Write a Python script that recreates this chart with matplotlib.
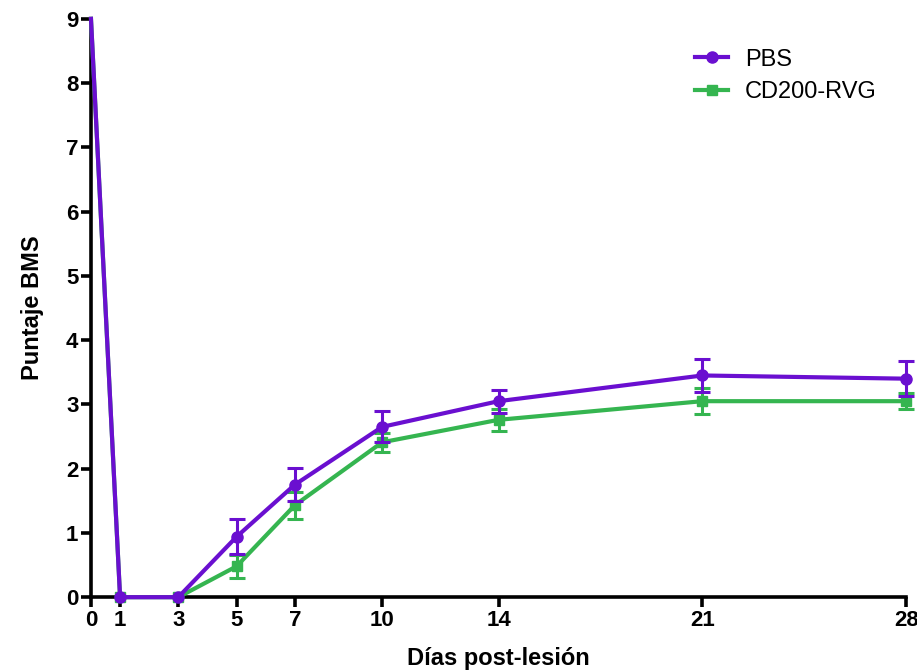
import matplotlib
matplotlib.use("Agg")
import matplotlib.pyplot as plt

# BMS score after lesion
days = [0, 1, 3, 5, 7, 10, 14, 21, 28]
pbs_mean = [9, 0, 0, 0.94, 1.75, 2.65, 3.05, 3.45, 3.40]
pbs_err = [0, 0, 0, 0.27, 0.26, 0.24, 0.18, 0.25, 0.27]
cd200_mean = [9, 0, 0, 0.48, 1.43, 2.41, 2.76, 3.05, 3.05]
cd200_err = [0, 0, 0, 0.18, 0.21, 0.15, 0.17, 0.20, 0.12]
tick_days = [0, 1, 3, 5, 7, 10, 14, 21, 28]

purple = "#6a0fd0"
green = "#35b550"

plt.rcParams['font.family'] = ['Liberation Sans', 'DejaVu Sans']

fig = plt.figure(figsize=(9.17, 6.71), dpi=100)
ax = fig.add_axes([0.0992, 0.110, 0.889, 0.862])

series = [
    ('CD200-RVG', cd200_mean, cd200_err, green, 's', 7, 3),
    ('PBS', pbs_mean, pbs_err, purple, 'o', 8, 4),
]
for name, mean, err, col, mk, ms, z in series:
    # no marker at day 0, it sits on the axis
    ax.plot(days, mean, color=col, marker=mk, markersize=ms, linewidth=3,
            markevery=list(range(1, len(days))), label=name, clip_on=False, zorder=z)
    idx = [i for i, e in enumerate(err) if e > 0]
    ax.errorbar([days[i] for i in idx], [mean[i] for i in idx], yerr=[err[i] for i in idx],
                fmt='none', ecolor=col, elinewidth=2.2, capsize=6, capthick=2.2,
                clip_on=False, zorder=z)

ax.set_xlim(0, 28)
ax.set_ylim(0, 9)
ax.set_xticks(tick_days)
ax.set_yticks(range(0, 10))

for side in ['top', 'right']:
    ax.spines[side].set_visible(False)
for side in ['left', 'bottom']:
    ax.spines[side].set_linewidth(2.6)
ax.tick_params(width=2.6, length=7, labelsize=16, pad=2)
for lab in ax.get_xticklabels() + ax.get_yticklabels():
    lab.set_fontweight('bold')

ax.set_xlabel("Días post-lesión", fontsize=17, fontweight='bold', labelpad=12)
ax.set_ylabel("Puntaje BMS", fontsize=17, fontweight='bold', labelpad=16)

handles, labels = ax.get_legend_handles_labels()
ax.legend(handles[::-1], labels[::-1], loc='upper right', bbox_to_anchor=(0.99, 0.985),
          frameon=False, prop={'size': 17}, handlelength=1.4, labelspacing=0.45,
          handletextpad=0.7)

fig.savefig("out.png", dpi=100)
